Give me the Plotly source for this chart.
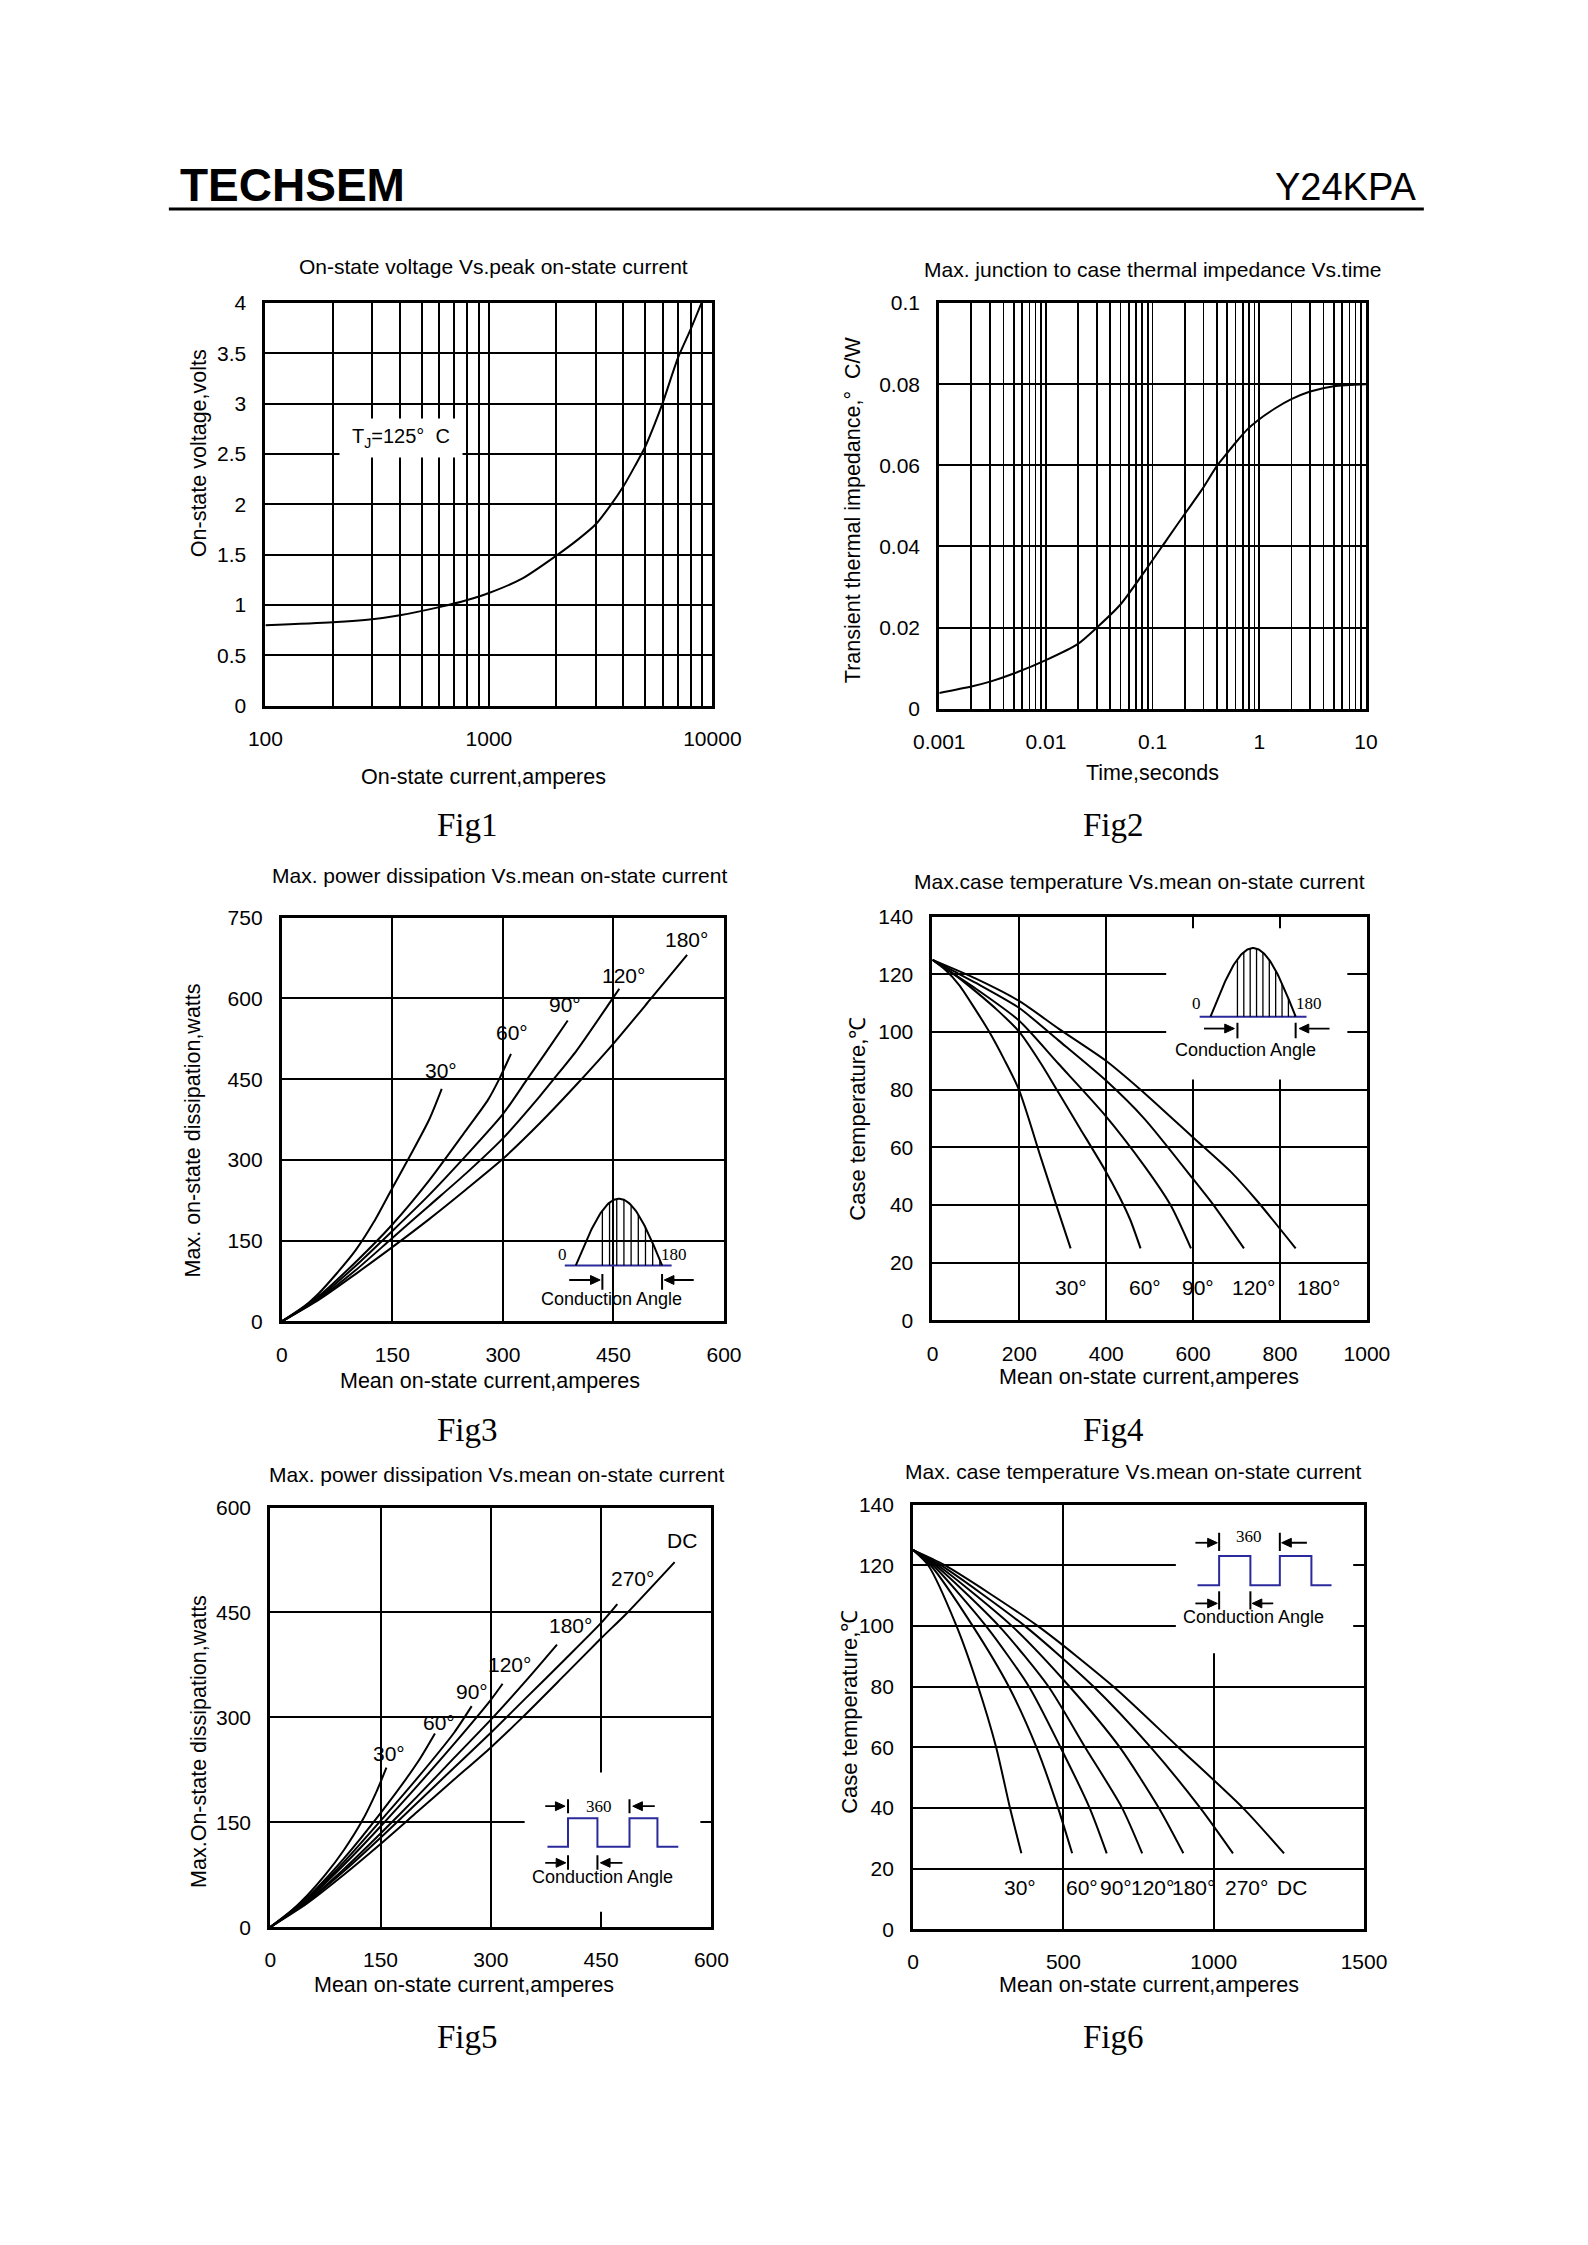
import numpy as np
import plotly.graph_objects as go

# ---------------- data ----------------
fig1_current_A = [100, 200, 300, 400, 600, 800, 1000, 1400, 2000, 2500, 3000, 3500, 4000, 4500, 5000, 5500, 6000, 7000, 8000, 8940]
fig1_voltage_V = [0.80, 0.83, 0.86, 0.90, 0.98, 1.05, 1.12, 1.26, 1.49, 1.65, 1.80, 1.99, 2.18, 2.38, 2.57, 2.79, 3.01, 3.45, 3.74, 4.00]

fig2_time_s = [0.001, 0.002, 0.003, 0.005, 0.01, 0.02, 0.03, 0.05, 0.085, 0.136, 0.2, 0.29, 0.4, 0.5, 0.61, 0.77, 0.96, 1.4, 2.0, 3.0, 5.0, 10.0]
fig2_zth = [0.0039, 0.0055, 0.0067, 0.0087, 0.0120, 0.0160, 0.0200, 0.0257, 0.0340, 0.0417, 0.0480, 0.0540, 0.0598, 0.0630, 0.0658, 0.0688, 0.0710, 0.0740, 0.0763, 0.0782, 0.0795, 0.0800]

fig3_i_30 = [0, 25, 50, 75, 100, 125, 150, 175, 200, 217]
fig3_p_30 = [0, 22, 52, 90, 132, 185, 248, 310, 375, 432]
fig3_i_60 = [0, 50, 100, 150, 200, 250, 280, 295, 311]
fig3_p_60 = [0, 47, 110, 180, 262, 355, 412, 450, 497]
fig3_i_90 = [0, 50, 100, 150, 200, 250, 300, 333, 360, 388]
fig3_p_90 = [0, 44, 103, 168, 235, 308, 385, 450, 503, 559]
fig3_i_120 = [0, 50, 100, 150, 200, 250, 300, 350, 369, 400, 449, 458]
fig3_p_120 = [0, 42, 95, 155, 215, 275, 340, 418, 450, 503, 600, 618]
fig3_i_180 = [0, 50, 100, 150, 200, 250, 300, 350, 400, 450, 500, 550]
fig3_p_180 = [0, 40, 88, 138, 190, 245, 302, 368, 440, 516, 598, 681]
fig3_labels = ["30°", "60°", "90°", "120°", "180°"]
fig3_label_i = [216, 313, 384, 463, 549]
fig3_label_p = [466, 537, 589, 642, 710]

fig4_i_30 = [0, 30, 62, 100, 131, 165, 199, 250, 285, 318]
fig4_t_30 = [125, 121.5, 116.2, 107.5, 100, 90.5, 80, 56.2, 40, 25]
fig4_i_60 = [0, 50, 100, 150, 199, 250, 290, 340, 397, 430, 455, 479]
fig4_t_60 = [125, 120, 114, 107.5, 100.2, 89, 79, 66.5, 52.2, 43, 35, 25]
fig4_i_90 = [0, 50, 100, 199, 290, 397, 488, 548, 595]
fig4_t_90 = [125, 120, 115, 104, 89, 71.2, 53.5, 40, 25]
fig4_i_120 = [0, 50, 100, 199, 290, 397, 488, 598, 647, 717]
fig4_t_120 = [125, 121, 117, 108.4, 97.1, 83.5, 69.9, 49.4, 40, 25]
fig4_i_180 = [0, 100, 200, 290, 397, 479, 598, 687, 747, 836]
fig4_t_180 = [125, 118.5, 110.7, 101.2, 90.3, 80, 63.7, 51.5, 41.5, 25]
fig4_labels = ["30°", "60°", "90°", "120°", "180°"]
fig4_label_i = [320, 490, 612, 740, 888]

fig5_i_30 = [0, 25, 50, 75, 100, 125, 145, 158]
fig5_p_30 = [0, 20, 45, 75, 110, 152, 195, 228]
fig5_i_60 = [0, 50, 100, 150, 200, 224]
fig5_p_60 = [0, 42, 98, 163, 235, 277]
fig5_i_90 = [0, 50, 100, 150, 200, 250, 274]
fig5_p_90 = [0, 40, 93, 152, 213, 278, 316]
fig5_i_120 = [0, 50, 100, 150, 200, 250, 300, 316]
fig5_p_120 = [0, 39, 89, 144, 202, 262, 325, 348]
fig5_i_180 = [0, 50, 100, 150, 200, 250, 303, 350, 390]
fig5_p_180 = [0, 37, 83, 134, 187, 242, 300, 355, 404]
fig5_i_270 = [0, 50, 100, 150, 200, 250, 300, 350, 400, 450, 472]
fig5_p_270 = [0, 36, 80, 128, 178, 228, 278, 330, 382, 435, 462]
fig5_i_dc = [0, 50, 100, 150, 200, 250, 300, 343, 400, 450, 486, 550]
fig5_p_dc = [0, 34, 75, 119, 165, 211, 257, 300, 360, 413, 450, 522]
fig5_labels = ["30°", "60°", "90°", "120°", "180°", "270°", "DC"]
fig5_label_i = [161, 229, 274, 325, 408, 493, 560]
fig5_label_p = [248, 293, 337, 375, 432, 498, 553]

fig6_temp = [125, 120, 100, 80, 60, 40, 25]
fig6_i_30 = [0, 50, 144, 216, 276, 322, 360]
fig6_i_60 = [0, 58, 198, 318, 410, 482, 529]
fig6_i_90 = [0, 66, 242, 385, 490, 587, 644]
fig6_i_120 = [0, 74, 285, 450, 572, 695, 762]
fig6_i_180 = [0, 82, 328, 520, 687, 817, 899]
fig6_i_270 = [0, 92, 371, 600, 790, 955, 1064]
fig6_i_dc = [0, 105, 414, 666, 882, 1097, 1234]
fig6_labels = ["30°", "60°", "90°", "120°", "180°", "270°", "DC"]
fig6_label_i = [357, 563, 676, 795, 933, 1110, 1262]

# ---------------- page geometry ----------------
W, H = 1588, 2245
FONT = "Liberation Sans, Arial, Helvetica, sans-serif"
SERIF = "Liberation Serif, Times New Roman, serif"
BLUE = "#2a2a9c"
TITLE_SIZE = 21
AXT_SIZE = 21.5
LBL_SIZE = 21


def px(x):
    return x / W


def py(y):
    return 1 - y / H


BOX = {
    1: ((248, 711), (294, 701)),
    2: ((946, 1388), (294, 704)),
    3: ((265, 723), (915, 1323)),
    4: ((939, 1389), (914, 1322)),
    5: ((253, 710), (1511, 1935)),
    6: ((919, 1386), (1508, 1937)),
}
RANGES = {
    3: ((0, 600), (0, 750)),
    4: ((0, 1000), (0, 140)),
    5: ((0, 600), (0, 600)),
    6: ((0, 1500), (0, 140)),
}


def xr(k):
    return "x" if k == 1 else f"x{k}"


def yr(k):
    return "y" if k == 1 else f"y{k}"


fig = go.Figure()
ann = []
shapes = []


def curve(k, x, y, color="black", width=2, shape="spline"):
    fig.add_trace(go.Scatter(x=x, y=y, mode="lines",
                             line=dict(color=color, width=width, shape=shape, smoothing=0.7),
                             xaxis=xr(k), yaxis=yr(k), hoverinfo="skip", showlegend=False))


def text(t, x, y, size=20, family=FONT, xref="paper", yref="paper", weight=None, **kw):
    f = dict(family=family, size=size, color="black")
    if weight:
        f["weight"] = weight
    d = dict(text=t, x=x, y=y, xref=xref, yref=yref, showarrow=False, font=f,
             xanchor="center", yanchor="middle")
    d.update(kw)
    ann.append(d)


def seg(k, x0, y0, x1, y1, w=2, color="black"):
    shapes.append(dict(type="line", xref=xr(k), yref=yr(k), x0=x0, y0=y0, x1=x1, y1=y1,
                       line=dict(color=color, width=w)))


def arrow(k, x_tail, x_head, y):
    (x0p, x1p), (y0p, y1p) = BOX[k]
    (xa, xb), (ya, yb) = RANGES[k]
    ux = (xb - xa) / (x1p - x0p)
    uy = (yb - ya) / (y1p - y0p)
    d = 1 if x_head > x_tail else -1
    head_len, half_w = 10, 4.5
    xbase = x_head - d * head_len * ux
    seg(k, x_tail, y, xbase, y, w=1.8)
    path = (f"M {x_head},{y} L {xbase},{y + half_w * uy} "
            f"L {xbase},{y - half_w * uy} Z")
    shapes.append(dict(type="path", xref=xr(k), yref=yr(k), path=path,
                       fillcolor="black", line=dict(color="black", width=1)))


def whitebox(k, x0, x1, y0, y1):
    shapes.append(dict(type="rect", xref=xr(k), yref=yr(k), x0=x0, x1=x1, y0=y0, y1=y1,
                       fillcolor="white", line=dict(width=0), layer="between"))


def axis_common():
    return dict(showline=True, linecolor="black", linewidth=3, mirror=True,
                showgrid=True, gridcolor="black", gridwidth=2, zeroline=False,
                ticks="outside", ticklen=12, tickcolor="rgba(0,0,0,0)",
                tickfont=dict(family=FONT, size=21, color="black"), fixedrange=True)


layout_axes = {}


def set_axes(k, xcfg, ycfg):
    (x0, x1), (y0, y1) = BOX[k]
    xa = axis_common()
    xa.update(xcfg)
    xa.update(domain=[px(x0), px(x1)], anchor=yr(k))
    ya = axis_common()
    ya.update(ycfg)
    ya.update(domain=[py(y1), py(y0)], anchor=xr(k))
    sfx = "" if k == 1 else str(k)
    layout_axes["xaxis" + sfx] = xa
    layout_axes["yaxis" + sfx] = ya


def fmt(v):
    return f"{v:g}"


# ---------------- Fig 1 ----------------
log_ticks1 = [m * 10 ** e for e in (2, 3) for m in range(1, 10)] + [10000]
set_axes(1,
         dict(type="log", range=[2, 4], tickvals=log_ticks1,
              ticktext=[fmt(v) if v in (100, 1000, 10000) else "" for v in log_ticks1]),
         dict(range=[0, 4], tickvals=[i * 0.5 for i in range(9)],
              ticktext=[fmt(i * 0.5) for i in range(9)]))
curve(1, fig1_current_A, fig1_voltage_V)
ann.append(dict(text="T<sub>J</sub>=125°  C", x=np.log10(405), y=2.66, xref="x", yref="y",
                showarrow=False, bgcolor="white", width=120, height=36,
                font=dict(family=FONT, size=20, color="black")))
text("On-state voltage Vs.peak on-state current", px(484), py(257), size=TITLE_SIZE)
text("On-state current,amperes", px(474), py(773), size=AXT_SIZE)
text("On-state voltage,volts", px(180), py(446), size=AXT_SIZE, textangle=-90)
text("Fig1", px(457), py(821), size=33, family=SERIF)

# ---------------- Fig 2 ----------------
log_ticks2 = [m * 10.0 ** e for e in (-3, -2, -1, 0) for m in range(1, 10)] + [10.0]
lab2 = {0.001: "0.001", 0.01: "0.01", 0.1: "0.1", 1.0: "1", 10.0: "10"}
set_axes(2,
         dict(type="log", range=[-3, 1], tickvals=log_ticks2,
              ticktext=[next((l for v2, l in lab2.items() if abs(v2 - v) < 1e-12), "") for v in log_ticks2],
              gridwidth=1.7),
         dict(range=[0, 0.1], tickvals=[0, 0.02, 0.04, 0.06, 0.08, 0.1],
              ticktext=["0", "0.02", "0.04", "0.06", "0.08", "0.1"]))
curve(2, fig2_time_s, fig2_zth)
text("Max. junction to case thermal impedance Vs.time", px(1167), py(260), size=TITLE_SIZE)
text("Time,seconds", px(1167), py(769), size=AXT_SIZE)
text("Transient thermal impedance,°  C/W", px(856), py(503), size=AXT_SIZE, textangle=-90)
text("Fig2", px(1126), py(821), size=33, family=SERIF)

# ---------------- Fig 3 ----------------
set_axes(3,
         dict(range=[0, 600], tickvals=[0, 150, 300, 450, 600]),
         dict(range=[0, 750], tickvals=[0, 150, 300, 450, 600, 750]))
for xi, yi in [(fig3_i_30, fig3_p_30), (fig3_i_60, fig3_p_60), (fig3_i_90, fig3_p_90),
               (fig3_i_120, fig3_p_120), (fig3_i_180, fig3_p_180)]:
    curve(3, xi, yi)
for lab, xi, yi in zip(fig3_labels, fig3_label_i, fig3_label_p):
    text(lab, xi, yi, size=LBL_SIZE, xref="x3", yref="y3")
text("Max. power dissipation Vs.mean on-state current", px(490), py(872), size=TITLE_SIZE)
text("Mean on-state current,amperes", px(481), py(1383), size=AXT_SIZE)
text("Max. on-state dissipation,watts", px(173), py(1130), size=AXT_SIZE, textangle=-90)
text("Fig3", px(457), py(1433), size=33, family=SERIF)


def sine_inset(k, base_x0, base_x1, base_y, s0, s1, amp, h0, h1, nh,
               tick_lo, tick_hi, arr_y, arrL, arrR, lab0, lab180, labcond):
    curve(k, [base_x0, base_x1], [base_y, base_y], color=BLUE, width=2, shape="linear")
    th = np.linspace(0, np.pi, 80)
    curve(k, list(s0 + (s1 - s0) * th / np.pi), list(base_y + amp * np.sin(th)), shape="linear")
    hx, hy = [], []
    for xv in np.linspace(h0, h1, nh):
        yv = base_y + amp * np.sin(np.pi * (xv - s0) / (s1 - s0))
        hx += [xv, xv, None]
        hy += [base_y, yv, None]
    fig.add_trace(go.Scatter(x=hx, y=hy, mode="lines", line=dict(color="black", width=1.3),
                             xaxis=xr(k), yaxis=yr(k), hoverinfo="skip", showlegend=False))
    seg(k, h0, tick_lo, h0, tick_hi)
    seg(k, s1, tick_lo, s1, tick_hi)
    arrow(k, arrL[0], arrL[1], arr_y)
    arrow(k, arrR[0], arrR[1], arr_y)
    text("0", lab0[0], lab0[1], size=17, family=SERIF, xref=xr(k), yref=yr(k))
    text("180", lab180[0], lab180[1], size=17, family=SERIF, xref=xr(k), yref=yr(k))
    text("Conduction Angle", labcond[0], labcond[1], size=18, xref=xr(k), yref=yr(k))


sine_inset(3, 384, 529, 104, 399, 516, 124, 435, 513, 9,
           59, 88, 77, (390, 432), (559, 519), (381, 125), (532, 125), (447, 41))

# ---------------- Fig 4 ----------------
set_axes(4,
         dict(range=[0, 1000], tickvals=[0, 200, 400, 600, 800, 1000]),
         dict(range=[0, 140], tickvals=[0, 20, 40, 60, 80, 100, 120, 140]))
whitebox(4, 538, 955, 83.5, 136)
for xi, yi in [(fig4_i_30, fig4_t_30), (fig4_i_60, fig4_t_60), (fig4_i_90, fig4_t_90),
               (fig4_i_120, fig4_t_120), (fig4_i_180, fig4_t_180)]:
    curve(4, xi, yi)
for lab, xi in zip(fig4_labels, fig4_label_i):
    text(lab, xi, 11.3, size=LBL_SIZE, xref="x4", yref="y4")
sine_inset(4, 615, 861, 105.3, 640, 836, 23.8, 702, 834, 10,
           97.8, 103.2, 101.2, (625, 695), (914, 844), (608, 110), (866, 110), (720, 93.7))
text("Max.case temperature Vs.mean on-state current", px(1153), py(878), size=TITLE_SIZE)
text("Mean on-state current,amperes", px(1163), py(1379), size=AXT_SIZE)
text("Case temperature,℃", px(861), py(1118), size=22, textangle=-90)
text("Fig4", px(1126), py(1433), size=33, family=SERIF)

# ---------------- Fig 5 ----------------
set_axes(5,
         dict(range=[0, 600], tickvals=[0, 150, 300, 450, 600]),
         dict(range=[0, 600], tickvals=[0, 150, 300, 450, 600]))
whitebox(5, 346, 585, 22, 221)
for xi, yi in [(fig5_i_30, fig5_p_30), (fig5_i_60, fig5_p_60), (fig5_i_90, fig5_p_90),
               (fig5_i_120, fig5_p_120), (fig5_i_180, fig5_p_180), (fig5_i_270, fig5_p_270),
               (fig5_i_dc, fig5_p_dc)]:
    curve(5, xi, yi)
for lab, xi, yi in zip(fig5_labels, fig5_label_i, fig5_label_p):
    text(lab, xi, yi, size=LBL_SIZE, xref="x5", yref="y5")
text("Max. power dissipation Vs.mean on-state current", px(487), py(1478), size=TITLE_SIZE)
text("Mean on-state current,amperes", px(454), py(1993), size=AXT_SIZE)
text("Max.On-state dissipation,watts", px(179), py(1747), size=AXT_SIZE, textangle=-90)
text("Fig5", px(457), py(2046), size=33, family=SERIF)


def square_inset(k, xs, lo, hi, top_y, top_tick, bot_y, bot_tick, arrows_top, arrows_bot,
                 lab360, labcond):
    wx = [xs[0], xs[1], xs[1], xs[2], xs[2], xs[3], xs[3], xs[4], xs[4], xs[5]]
    wy = [lo, lo, hi, hi, lo, lo, hi, hi, lo, lo]
    curve(k, wx, wy, color=BLUE, width=2, shape="linear")
    seg(k, xs[1], top_tick[0], xs[1], top_tick[1])
    seg(k, xs[3], top_tick[0], xs[3], top_tick[1])
    seg(k, xs[1], bot_tick[0], xs[1], bot_tick[1])
    seg(k, xs[2], bot_tick[0], xs[2], bot_tick[1])
    arrow(k, arrows_top[0][0], arrows_top[0][1], top_y)
    arrow(k, arrows_top[1][0], arrows_top[1][1], top_y)
    arrow(k, arrows_bot[0][0], arrows_bot[0][1], bot_y)
    arrow(k, arrows_bot[1][0], arrows_bot[1][1], bot_y)
    text("360", lab360[0], lab360[1], size=17, family=SERIF, xref=xr(k), yref=yr(k))
    text("Conduction Angle", labcond[0], labcond[1], size=18, xref=xr(k), yref=yr(k))


square_inset(5, [377, 405, 445, 488.6, 526.6, 555], 115, 155.6,
             173, (163, 183), 92, (82, 103),
             ((374, 401), (523, 493)), ((374, 402), (479, 449)),
             (447, 173), (452, 72))

# ---------------- Fig 6 ----------------
set_axes(6,
         dict(range=[0, 1500], tickvals=[0, 500, 1000, 1500]),
         dict(range=[0, 140], tickvals=[0, 20, 40, 60, 80, 100, 120, 140]))
whitebox(6, 874, 1464, 91, 140)
for xi in [fig6_i_30, fig6_i_60, fig6_i_90, fig6_i_120, fig6_i_180, fig6_i_270, fig6_i_dc]:
    curve(6, xi, fig6_temp)
for lab, xi in zip(fig6_labels, fig6_label_i):
    text(lab, xi, 13.7, size=LBL_SIZE, xref="x6", yref="y6")
square_inset(6, [946, 1018, 1122, 1220, 1325, 1392], 113.4, 123,
             127.4, (124.7, 130.7), 107.4, (105.4, 111.4),
             ((939, 1012), (1310, 1226)), ((939, 1012), (1198, 1128)),
             (1119, 129.6), (1133, 103))
text("Max. case temperature Vs.mean on-state current", px(1147), py(1475), size=TITLE_SIZE)
text("Mean on-state current,amperes", px(1163), py(1993), size=AXT_SIZE)
text("Case temperature,℃", px(853), py(1717), size=22, textangle=-90)
text("Fig6", px(1126), py(2046), size=33, family=SERIF)

# ---------------- header ----------------
text("TECHSEM", px(157), py(175), size=46, family=FONT, weight="bold", xanchor="left")
text("Y24KPA", px(1442), py(177), size=38, family=FONT, xanchor="right")
shapes.append(dict(type="line", xref="paper", yref="paper", x0=px(148), x1=px(1448),
                   y0=py(199), y1=py(199), line=dict(color="black", width=3)))

fig.update_layout(width=W, height=H, autosize=False,
                  margin=dict(l=0, r=0, t=0, b=0, pad=0),
                  paper_bgcolor="white", plot_bgcolor="white",
                  showlegend=False, annotations=ann, shapes=shapes,
                  font=dict(family=FONT, color="black"),
                  **layout_axes)

fig.write_html("out.html", include_plotlyjs=True, full_html=True,
               config={"displayModeBar": False, "staticPlot": True},
               post_script="document.body.style.margin='0px';document.body.style.overflow='hidden';")
